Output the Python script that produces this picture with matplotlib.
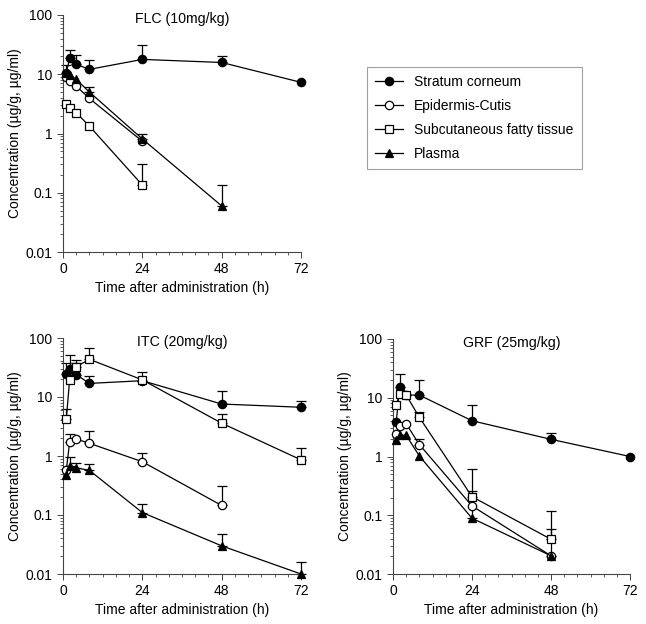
import numpy as np
import matplotlib.pyplot as plt
from matplotlib.ticker import FixedLocator, FixedFormatter, LogLocator, NullFormatter

plt.rcParams['font.family'] = ['Liberation Sans', 'DejaVu Sans']

# sampling times (h)
times = [1, 2, 4, 8, 24, 48, 72]
series_names = ['Stratum corneum', 'Epidermis-Cutis',
                'Subcutaneous fatty tissue', 'Plasma']

# FLC (10 mg/kg): mean values, nan = not measured
flc_sc = [10.5, 18.6, 14.7, 12.1, 17.8, 15.8, 7.3]
flc_ec = [8.9, 7.8, 6.3, 3.9, 0.74, np.nan, np.nan]
flc_sft = [3.2, 2.65, 2.25, 1.33, 0.135, np.nan, np.nan]
flc_pl = [10.7, 9.7, 8.2, 5.0, 0.81, 0.06, np.nan]
# upper ends of the error bars (nan = no bar visible)
flc_sc_up = [14.3, 25.6, 21.0, 17.4, 31.0, 20.0, np.nan]
flc_ec_up = [np.nan] * 7
flc_sft_up = [np.nan, np.nan, np.nan, np.nan, 0.31, np.nan, np.nan]
flc_pl_up = [np.nan, np.nan, np.nan, 6.2, 0.97, 0.134, np.nan]

# ITC (20 mg/kg)
itc_sc = [25.0, 29.5, 24.0, 17.0, 18.9, 7.6, 6.7]
itc_ec = [0.58, 1.7, 1.94, 1.64, 0.8, 0.145, np.nan]
itc_sft = [4.2, 19.5, 32.7, 43.5, 19.5, 3.6, 0.86]
itc_pl = [0.48, 0.68, 0.63, 0.57, 0.11, 0.03, 0.01]
itc_sc_up = [37.0, 51.0, 42.0, 22.7, 27.0, 12.5, 8.5]
itc_ec_up = [np.nan, 2.35, np.nan, 2.7, 1.11, 0.31, np.nan]
itc_sft_up = [6.3, np.nan, 38.0, 69.0, np.nan, 5.2, 1.35]
itc_pl_up = [np.nan, 0.95, 0.76, 0.74, 0.155, 0.048, 0.016]

# GRF (25 mg/kg)
grf_sc = [3.9, 15.5, 11.1, 11.1, 4.06, 1.96, 1.0]
grf_ec = [2.4, 3.3, 3.6, 1.6, 0.144, 0.0204, np.nan]
grf_sft = [7.5, 11.6, 11.1, 4.65, 0.207, 0.039, np.nan]
grf_pl = [1.9, 2.3, 2.3, 1.02, 0.089, 0.0204, np.nan]
grf_sc_up = [np.nan, 25.0, np.nan, 20.0, 7.5, 2.48, np.nan]
grf_ec_up = [np.nan, np.nan, np.nan, 2.0, np.nan, 0.058, np.nan]
grf_sft_up = [np.nan, np.nan, np.nan, 5.75, 0.61, 0.12, np.nan]
grf_pl_up = [np.nan, np.nan, np.nan, np.nan, 0.26, np.nan, np.nan]

panels = [
    ('FLC (10mg/kg)', [flc_sc, flc_ec, flc_sft, flc_pl],
     [flc_sc_up, flc_ec_up, flc_sft_up, flc_pl_up]),
    ('ITC (20mg/kg)', [itc_sc, itc_ec, itc_sft, itc_pl],
     [itc_sc_up, itc_ec_up, itc_sft_up, itc_pl_up]),
    ('GRF (25mg/kg)', [grf_sc, grf_ec, grf_sft, grf_pl],
     [grf_sc_up, grf_ec_up, grf_sft_up, grf_pl_up]),
]

styles = [dict(marker='o', mfc='black', ms=6),
          dict(marker='o', mfc='white', ms=6),
          dict(marker='s', mfc='white', ms=6),
          dict(marker='^', mfc='black', ms=6.3)]

W, H = 646, 624
fig = plt.figure(figsize=(W / 100, H / 100), dpi=100)

# axes boxes in pixels: left, top, right, bottom
boxes = [(63, 15, 301, 252), (63, 338, 301, 574), (393, 339, 630, 574)]

handles = []
for (title, means, ups), (l, t, r, b) in zip(panels, boxes):
    ax = fig.add_axes([l / W, 1 - b / H, (r - l) / W, (b - t) / H])
    ax.set_yscale('log')
    ax.set_xlim(0, 72)
    ax.set_ylim(0.01, 100)
    for name, m, up, st in zip(series_names, means, ups, styles):
        m = np.array(m, dtype=float)
        up = np.array(up, dtype=float)
        tt = np.array(times, dtype=float)
        ok = ~np.isnan(m)
        eb = ~np.isnan(up)
        if eb.any():
            err = up[eb] - m[eb]
            cont = ax.errorbar(tt[eb], m[eb], yerr=[np.zeros_like(err), err],
                               fmt='none', ecolor='black', elinewidth=0.9,
                               capsize=3.5, capthick=0.9, zorder=2)
            for art in cont.get_children():
                art.set_clip_on(False)
        h, = ax.plot(tt[ok], m[ok], color='black', lw=0.9, mec='black',
                     mew=0.9, label=name, zorder=3, clip_on=False, **st)
        if len(handles) < 4:
            handles.append(h)

    for s in ['top', 'right']:
        ax.spines[s].set_visible(False)
    for s in ['left', 'bottom']:
        ax.spines[s].set_linewidth(0.8)
        ax.spines[s].set_color('#444444')

    ax.yaxis.set_major_locator(FixedLocator([0.01, 0.1, 1, 10, 100]))
    ax.yaxis.set_major_formatter(FixedFormatter(['0.01', '0.1', '1', '10', '100']))
    ax.yaxis.set_minor_locator(LogLocator(base=10, subs=np.arange(2, 10)))
    ax.yaxis.set_minor_formatter(NullFormatter())
    ax.set_xticks([0, 24, 48, 72])
    ax.set_xticks(np.arange(0, 73, 4), minor=True)
    ax.tick_params(which='major', direction='out', length=4, width=0.7,
                   color='#444444', labelsize=10)
    ax.tick_params(which='minor', direction='out', length=2.5, width=0.6,
                   color='#444444')

    ax.text(0.5, 0.985, title, transform=ax.transAxes, ha='center',
            va='center', fontsize=10.2)
    ax.set_xlabel('Time after administration (h)', fontsize=10, labelpad=3)
    ax.set_ylabel('Concentration (µg/g, µg/ml)', fontsize=10, labelpad=3)

leg = fig.legend(handles=handles, loc='upper left',
                 bbox_to_anchor=(367 / W, 1 - 67 / H), fontsize=10,
                 frameon=True, fancybox=False, edgecolor='#888888',
                 handlelength=2.0, borderpad=0.6, labelspacing=0.7,
                 borderaxespad=0)
leg.get_frame().set_linewidth(0.8)

fig.savefig('out.png', dpi=100)
